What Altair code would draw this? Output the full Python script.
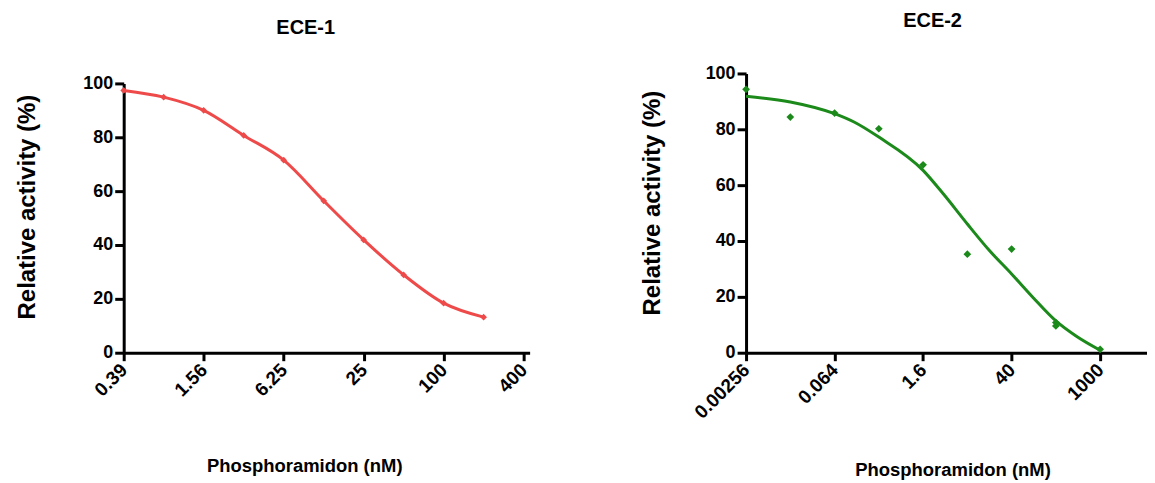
import altair as alt
import pandas as pd

# ECE-1 data (2-fold dilution series)
ece1_conc = [0.39, 0.78, 1.56, 3.125, 6.25, 12.5, 25, 50, 100, 200]
ece1_act = [97.4, 94.9, 90.0, 80.7, 71.5, 56.4, 41.9, 28.9, 18.4, 13.2]

# ECE-2 data (5-fold dilution series)
ece2_conc = [0.00256, 0.0128, 0.064, 0.32, 1.6, 8, 40, 200, 200, 1000]
ece2_act = [94.3, 84.4, 85.8, 80.2, 67.3, 35.3, 37.1, 9.6, 10.8, 1.2]

# ECE-2 fitted curve
ece2_fit_conc = [0.00256, 0.0128, 0.064, 0.13, 0.32, 1.6, 3.33, 8, 18, 40, 87, 200, 416, 1000]
ece2_fit_act = [91.8, 89.8, 85.6, 82.6, 77.2, 65.3, 56.9, 46.1, 36.5, 28.2, 19.8, 11.4, 6.0, 0.9]

ece1_ticks = [0.39, 1.56, 6.25, 25, 100, 400]
ece2_ticks = [0.00256, 0.064, 1.6, 40, 1000]
y_ticks = [0, 20, 40, 60, 80, 100]

FONT = "Liberation Sans"
RED = "#EE4A4A"
GREEN = "#1B8A1B"


def x_axis(values, title_x, title_y):
    return alt.Axis(
        values=values, title="Phosphoramidon (nM)",
        labelExpr="format(datum.value, '~g')",
        labelAngle=315, labelAlign="right", labelBaseline="middle",
        labelFont=FONT, labelFontSize=19, labelFontWeight="bold", labelColor="black",
        labelPadding=6, labelOverlap=False, labelFlush=False, labelBound=False,
        tickSize=8, tickWidth=3, tickColor="black",
        domainWidth=3, domainColor="black", grid=False,
        titleFont=FONT, titleFontSize=18.5, titleFontWeight="bold", titleColor="black",
        titleX=title_x, titleY=title_y, titleAlign="center", titleBaseline="middle", titleAngle=0,
    )


def y_axis(title_x, title_y):
    return alt.Axis(
        values=y_ticks, title="Relative activity (%)",
        labelFont=FONT, labelFontSize=18, labelFontWeight="bold", labelColor="black",
        labelPadding=2, tickSize=9, tickWidth=3, tickColor="black",
        domainWidth=3, domainColor="black", grid=False,
        titleFont=FONT, titleFontSize=24, titleFontWeight="bold", titleColor="black",
        titleX=title_x, titleY=title_y, titleAlign="center", titleBaseline="middle", titleAngle=270,
    )


df1 = pd.DataFrame({"conc": ece1_conc, "act": ece1_act})
df2 = pd.DataFrame({"conc": ece2_conc, "act": ece2_act})
df2fit = pd.DataFrame({"conc": ece2_fit_conc, "act": ece2_fit_act})

x1 = alt.X("conc:Q", scale=alt.Scale(type="log", domain=[0.39, 444], nice=False),
           axis=x_axis(ece1_ticks, 181, 113))
y1 = alt.Y("act:Q", scale=alt.Scale(domain=[0, 100], nice=False, range=[280, 10]),
           axis=y_axis(-96, 133.5))

line1 = alt.Chart(df1).mark_line(color=RED, strokeWidth=3, interpolate="monotone").encode(x=x1, y=y1)
pts1 = alt.Chart(df1).mark_point(shape="diamond", filled=True, size=45, color=RED, opacity=1).encode(
    x="conc:Q", y="act:Q")

left = alt.layer(line1, pts1).properties(
    width=407, height=280,
    title=alt.TitleParams(text="ECE-1", font=FONT, fontSize=20, fontWeight="bold",
                          color="black", anchor="middle", dx=-21, baseline="alphabetic",
                          offset=20),
)

x2 = alt.X("conc:Q", scale=alt.Scale(type="log", domain=[0.00256, 5500], nice=False),
           axis=x_axis(ece2_ticks, 207, 117))
y2 = alt.Y("act:Q", scale=alt.Scale(domain=[0, 100], nice=False), axis=y_axis(-94, 129.5))

line2 = alt.Chart(df2fit).mark_line(color=GREEN, strokeWidth=3, interpolate="monotone").encode(x=x2, y=y2)
pts2 = alt.Chart(df2).mark_point(shape="diamond", filled=True, size=60, color=GREEN, opacity=1).encode(
    x="conc:Q", y="act:Q")

right = alt.layer(line2, pts2).properties(
    width=402, height=280,
    title=alt.TitleParams(text="ECE-2", font=FONT, fontSize=20, fontWeight="bold",
                          color="black", anchor="middle", dx=-14, baseline="alphabetic", offset=18),
)

chart = alt.hconcat(left, right, spacing=109).properties(
    padding={"left": 8, "top": 2, "right": 0, "bottom": 0}
).configure_view(stroke=None).resolve_scale(x="independent", y="independent")

chart.save("out.html", embed_options={"renderer": "svg", "actions": False})
